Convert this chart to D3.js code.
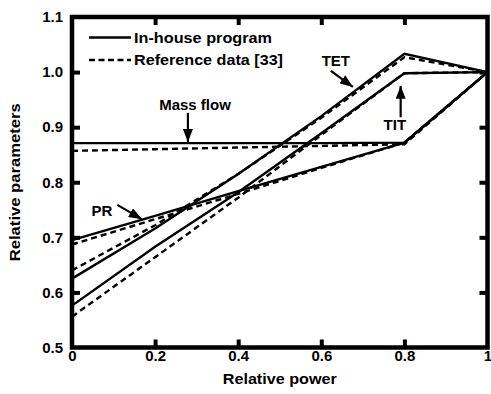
<!DOCTYPE html>
<html>
<head>
<meta charset="utf-8">
<script src="https://cdn.jsdelivr.net/npm/d3@7"></script>
<style>
  body { margin: 0; background: #fff; }
  text { font-family: "Liberation Sans", Arial, sans-serif; font-weight: bold; fill: #000; }
</style>
</head>
<body>
<div id="chart"></div>
<script>
// relative power (x) and curves
var power = [0, 0.2, 0.4, 0.6, 0.8, 1];

var massFlowCalc = [0.871, 0.871, 0.871, 0.871, 0.872, 1.0];
var prCalc       = [0.695, 0.739, 0.784, 0.828, 0.872, 1.0];
var tetCalc      = [0.625, 0.716, 0.815, 0.920, 1.033, 1.0];
var titCalc      = [0.576, 0.683, 0.782, 0.889, 0.998, 1.0];

var massFlowRef = [0.857, 0.860, 0.863, 0.866, 0.869, 1.0];
var prRef       = [0.687, 0.733, 0.779, 0.826, 0.872, 1.0];
var tetRef      = [0.640, 0.722, 0.815, 0.917, 1.027, 1.0];
var titRef      = [0.556, 0.664, 0.772, 0.886, 0.998, 1.0];

var xTicks = [0, 0.2, 0.4, 0.6, 0.8, 1];
var yTicks = [0.5, 0.6, 0.7, 0.8, 0.9, 1.0, 1.1];

// annotations: label, label position, arrow start, arrow tip (data units)
var notes = [
  {label: "Mass flow", lx: 0.296, ly: 0.931, x1: 0.279, y1: 0.926, x2: 0.279, y2: 0.873},
  {label: "TET",       lx: 0.635, ly: 1.011, x1: 0.623, y1: 1.002, x2: 0.676, y2: 0.973},
  {label: "TIT",       lx: 0.777, ly: 0.895, x1: 0.791, y1: 0.918, x2: 0.791, y2: 0.975},
  {label: "PR",        lx: 0.072, ly: 0.739, x1: 0.109, y1: 0.759, x2: 0.168, y2: 0.733}
];

var margin = {top: 17, right: 3.5, bottom: 46.5, left: 72},
    width = 491 - margin.left - margin.right,
    height = 394 - margin.top - margin.bottom;

var svg = d3.select("#chart")
  .append("svg")
    .attr("width", 491)
    .attr("height", 394)
  .append("g")
    .attr("transform", "translate(" + margin.left + "," + margin.top + ")");

var x = d3.scaleLinear().domain([0, 1]).range([0, width]);
var y = d3.scaleLinear().domain([0.5, 1.1]).range([height, 0]);

svg.append("defs").append("marker")
    .attr("id", "head")
    .attr("markerUnits", "userSpaceOnUse")
    .attr("viewBox", "0 -5 13 10")
    .attr("refX", 13).attr("refY", 0)
    .attr("markerWidth", 13).attr("markerHeight", 10)
    .attr("orient", "auto")
  .append("path")
    .attr("d", "M0,-5L13,0L0,5Z")
    .attr("fill", "#000");

// data lines
var line = d3.line()
  .x(function(d, i) { return x(power[i]); })
  .y(function(d) { return y(d); });

var calcSeries = [massFlowCalc, prCalc, tetCalc, titCalc];
var refSeries = [massFlowRef, prRef, tetRef, titRef];

svg.selectAll(".ref")
  .data(refSeries)
  .enter()
  .append("path")
    .attr("class", "ref")
    .attr("d", line)
    .attr("fill", "none")
    .attr("stroke", "#000")
    .attr("stroke-width", 2.4)
    .attr("stroke-dasharray", "6,4");

svg.selectAll(".calc")
  .data(calcSeries)
  .enter()
  .append("path")
    .attr("class", "calc")
    .attr("d", line)
    .attr("fill", "none")
    .attr("stroke", "#000")
    .attr("stroke-width", 2.4)
    .attr("stroke-linejoin", "miter");

// axes with inward ticks on all four sides
function styleAxis(g) {
  g.select(".domain").remove();
  g.selectAll(".tick line").attr("stroke", "#000").attr("stroke-width", 4);
  g.selectAll("text").style("font-size", "15px").attr("fill", "#000");
}

svg.append("g")
    .attr("transform", "translate(0," + height + ")")
    .call(d3.axisBottom(x).tickValues(xTicks).tickSizeInner(-8).tickSizeOuter(0).tickPadding(3)
      .tickFormat(function(d) { return d === 0 || d === 1 ? d3.format("d")(d) : d3.format(".1f")(d); }))
    .call(styleAxis)
    .call(function(g) {
      g.selectAll(".tick").filter(function(d) { return d === 0 || d === 1; }).select("line").remove();
    });

svg.append("g")
    .call(d3.axisTop(x).tickValues(xTicks.slice(1, -1)).tickSizeInner(-8).tickSizeOuter(0).tickFormat(""))
    .call(styleAxis);

svg.append("g")
    .call(d3.axisLeft(y).tickValues(yTicks).tickSizeInner(-8).tickSizeOuter(0).tickPadding(9)
      .tickFormat(d3.format(".1f")))
    .call(styleAxis)
    .call(function(g) {
      g.selectAll(".tick").filter(function(d) { return d === 0.5 || d === 1.1; }).select("line").remove();
    });

svg.append("g")
    .attr("transform", "translate(" + width + ",0)")
    .call(d3.axisRight(y).tickValues(yTicks.slice(1, -1)).tickSizeInner(-8).tickSizeOuter(0).tickFormat(""))
    .call(styleAxis);

// frame
svg.append("rect")
    .attr("x", 0).attr("y", 0)
    .attr("width", width).attr("height", height)
    .attr("fill", "none")
    .attr("stroke", "#000")
    .attr("stroke-width", 4.5);

// axis titles
svg.append("text")
    .attr("x", width / 2)
    .attr("y", height + 36)
    .attr("text-anchor", "middle")
    .attr("textLength", 114)
    .attr("lengthAdjust", "spacingAndGlyphs")
    .style("font-size", "15px")
    .text("Relative power");

svg.append("text")
    .attr("transform", "translate(" + (-52) + "," + (height / 2) + ") rotate(-90)")
    .attr("text-anchor", "middle")
    .attr("textLength", 158)
    .attr("lengthAdjust", "spacingAndGlyphs")
    .style("font-size", "15px")
    .text("Relative parameters");

// legend
var legendItems = [
  {name: "In-house program", dash: null, w: 138},
  {name: "Reference data [33]", dash: "6,3.5", w: 149}
];
var legend = svg.selectAll(".legend")
  .data(legendItems)
  .enter()
  .append("g")
    .attr("class", "legend")
    .attr("transform", function(d, i) { return "translate(17," + (20.5 + i * 22.5) + ")"; });
legend.append("line")
    .attr("x1", 0).attr("x2", 42)
    .attr("stroke", "#000")
    .attr("stroke-width", 2.4)
    .attr("stroke-dasharray", function(d) { return d.dash; });
legend.append("text")
    .attr("x", 45)
    .attr("y", 5)
    .attr("textLength", function(d) { return d.w; })
    .attr("lengthAdjust", "spacingAndGlyphs")
    .style("font-size", "15px")
    .text(function(d) { return d.name; });

// annotation arrows and labels
svg.selectAll(".arrow")
  .data(notes)
  .enter()
  .append("line")
    .attr("class", "arrow")
    .attr("x1", function(d) { return x(d.x1); })
    .attr("y1", function(d) { return y(d.y1); })
    .attr("x2", function(d) { return x(d.x2); })
    .attr("y2", function(d) { return y(d.y2); })
    .attr("stroke", "#000")
    .attr("stroke-width", 2.2)
    .attr("marker-end", "url(#head)");

svg.selectAll(".note")
  .data(notes)
  .enter()
  .append("text")
    .attr("class", "note")
    .attr("x", function(d) { return x(d.lx); })
    .attr("y", function(d) { return y(d.ly); })
    .attr("text-anchor", "middle")
    .style("font-size", "15px")
    .text(function(d) { return d.label; });
</script>
</body>
</html>
